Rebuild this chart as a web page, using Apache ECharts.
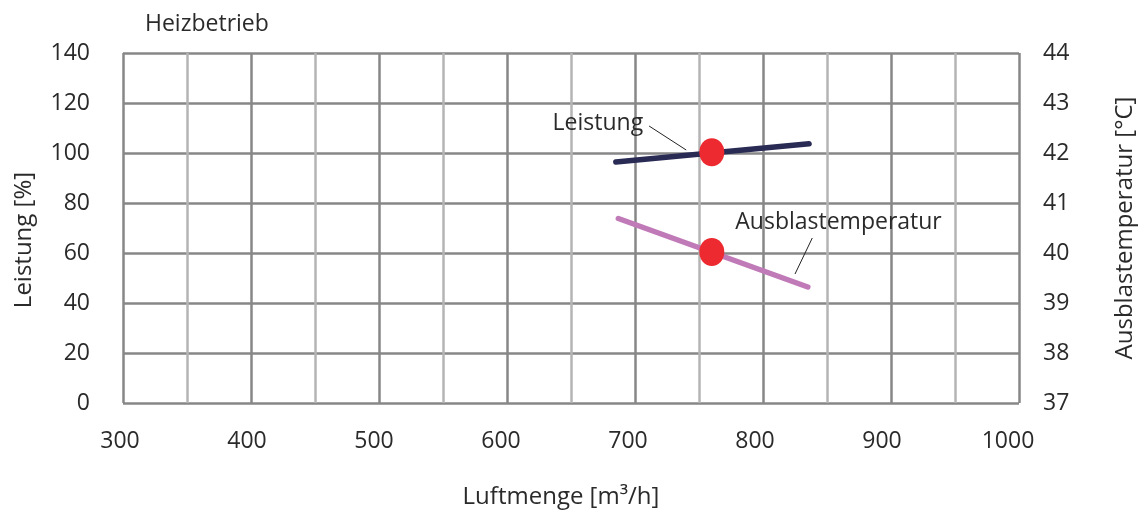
<!DOCTYPE html>
<html>
<head>
<meta charset="utf-8">
<script src="https://cdn.jsdelivr.net/npm/echarts@6/dist/echarts.min.js"></script>
<style>html,body{margin:0;padding:0;background:#fff}#c{width:1147px;height:520px}</style>
</head>
<body>
<div id="c"></div>
<script>
// ---- data ----
const chartTitle = 'Heizbetrieb';
const xName = 'Luftmenge [m³/h]';
const yLeftName = 'Leistung [%]';
const yRightName = 'Ausblastemperatur [°C]';
const xRange = [300, 1000, 50];
const yLeftRange = [0, 140, 20];
const yRightRange = [37, 44, 1];
const leistungLine = [[685, 96.4], [836, 103.7]];
const tempLine = [[687, 40.69], [835, 39.32]];
const leistungPoint = [[760, 100.3]];
const tempPoint = [[760, 40.02]];
const leistungLabel = { text: 'Leistung', at: [671, 112], leader: [[711, 110.8], [740, 101.2]] };
const tempLabel = { text: 'Ausblastemperatur', at: [859, 40.61], leader: [[838.5, 40.3], [825, 39.58]] };

const FONT = '"Open Sans", "Noto Sans", sans-serif';
const TXT = '#2a2a2a';
const DARK = '#878787';
const LIGHT = '#b4b4b4';

// style: small leftward shift of x tick labels as in the reference (px)
const xLabelShift = { 300: 3, 400: 4, 500: 5, 600: 6, 700: 7, 800: 8, 900: 9, 1000: 11 };
const xRich = {};
Object.keys(xLabelShift).forEach(k => {
  xRich['s' + k] = { fontFamily: FONT, fontSize: 23, color: TXT, padding: [0, 2 * xLabelShift[k], 0, 0] };
});

const chart = echarts.init(document.getElementById('c'), null, { renderer: 'canvas' });

function annotation(lbl, yIdx) {
  return {
    type: 'scatter', yAxisIndex: yIdx, symbolSize: 1, silent: true, z: 5,
    itemStyle: { opacity: 0 },
    data: [lbl.at],
    label: { show: true, position: 'inside', formatter: lbl.text, fontFamily: FONT, fontSize: 23, color: TXT, opacity: 1 },
    markLine: {
      silent: true, symbol: 'none', animation: false,
      lineStyle: { color: '#222', width: 1, type: 'solid', opacity: 1 },
      label: { show: false },
      data: [[{ coord: lbl.leader[0] }, { coord: lbl.leader[1] }]]
    }
  };
}

chart.setOption({
  animation: false,
  title: {
    text: chartTitle, left: 140, top: 8,
    textStyle: { fontFamily: FONT, fontSize: 23, fontWeight: 'normal', color: TXT }
  },
  grid: { left: 123, right: 128, top: 53, bottom: 117, containLabel: false },
  xAxis: {
    type: 'value', min: xRange[0], max: xRange[1], interval: xRange[2],
    name: xName, nameLocation: 'middle', nameGap: 82,
    nameTextStyle: { fontFamily: FONT, fontSize: 24, color: TXT, padding: [0, 20, 0, 0] },
    axisLine: { show: false }, axisTick: { show: false },
    axisLabel: {
      margin: 27, fontFamily: FONT, fontSize: 23, color: TXT,
      formatter: v => (v % 100 === 0 ? '{s' + v + '|' + v + '}' : ''),
      rich: xRich
    },
    splitLine: { show: true, lineStyle: { color: [DARK, LIGHT], width: 2.5 } }
  },
  yAxis: [
    {
      type: 'value', min: yLeftRange[0], max: yLeftRange[1], interval: yLeftRange[2],
      name: yLeftName, nameLocation: 'middle', nameGap: 87, nameRotate: 90,
      nameTextStyle: { fontFamily: FONT, fontSize: 24, color: TXT, padding: [0, 24, 0, 0] },
      axisLine: { show: false }, axisTick: { show: false },
      axisLabel: { margin: 33, fontFamily: FONT, fontSize: 23, color: TXT },
      splitLine: { show: true, lineStyle: { color: DARK, width: 2.5 } }
    },
    {
      type: 'value', min: yRightRange[0], max: yRightRange[1], interval: yRightRange[2],
      position: 'right',
      name: yRightName, nameLocation: 'middle', nameGap: 94, nameRotate: 90,
      nameTextStyle: { fontFamily: FONT, fontSize: 24, color: TXT },
      axisLine: { show: false }, axisTick: { show: false },
      axisLabel: { margin: 24, fontFamily: FONT, fontSize: 23, color: TXT },
      splitLine: { show: false }
    }
  ],
  series: [
    {
      type: 'line', yAxisIndex: 0, data: leistungLine, showSymbol: false, symbol: 'none',
      lineStyle: { color: '#2a2b55', width: 5.5, cap: 'round' }, z: 3
    },
    {
      type: 'line', yAxisIndex: 1, data: tempLine, showSymbol: false, symbol: 'none',
      lineStyle: { color: '#c07ab8', width: 5.5, cap: 'round' }, z: 3
    },
    {
      type: 'scatter', yAxisIndex: 0, data: leistungPoint, symbol: 'circle', symbolSize: [25, 28],
      itemStyle: { color: '#ec2a30', opacity: 1 }, z: 4
    },
    {
      type: 'scatter', yAxisIndex: 1, data: tempPoint, symbol: 'circle', symbolSize: [25, 28],
      itemStyle: { color: '#ec2a30', opacity: 1 }, z: 4
    },
    annotation(leistungLabel, 0),
    annotation(tempLabel, 1)
  ]
});
</script>
</body>
</html>
